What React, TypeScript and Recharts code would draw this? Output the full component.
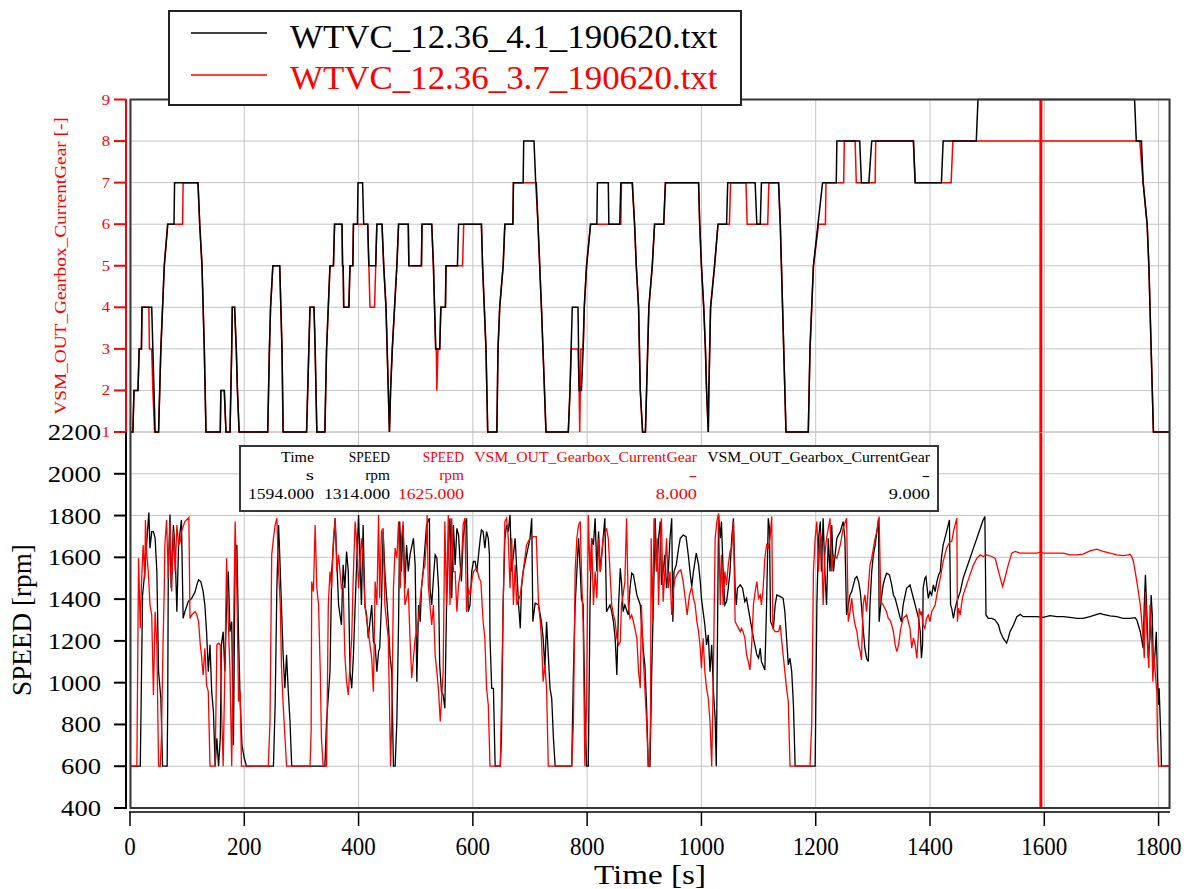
import React from "react";
import { LineChart, Line, XAxis, YAxis, CartesianGrid, ReferenceLine } from "recharts";

const BLACK = "#000000";
const RED = "#ff0000";
const GRID = "#c4c4c4";
const FRAME = "#363636";
const FONT = "'Liberation Serif', serif";

const T_MAX = 1820;
const timeTicks = [0, 200, 400, 600, 800, 1000, 1200, 1400, 1600, 1800];
const gearTicks = [1, 2, 3, 4, 5, 6, 7, 8, 9];
const speedTicks = [400, 600, 800, 1000, 1200, 1400, 1600, 1800, 2000, 2200];
const cursorTime = 1594;

const fileBlack = "WTVC_12.36_4.1_190620.txt";
const fileRed = "WTVC_12.36_3.7_190620.txt";

// cursor readout table
const tableHeads = ["Time", "SPEED", "SPEED", "VSM_OUT_Gearbox_CurrentGear", "VSM_OUT_Gearbox_CurrentGear"];
const tableUnits = ["s", "rpm", "rpm", "-", "-"];
const tableValues = ["1594.000", "1314.000", "1625.000", "8.000", "9.000"];

// gear, black file: [time s, gear]
const gearBlack: [number, number][] = [
  [0, 1], [5, 1], [7, 2], [14, 2], [16, 3], [20, 3], [21, 4], [38, 4], [40, 3], [42, 2], [44, 1], [50, 1],
  [52, 2], [54, 3], [57, 4], [60, 5], [66, 6], [77, 6], [78, 7], [119, 7], [122, 6], [126, 5], [128, 4],
  [130, 3], [133, 1], [158, 1], [159, 2], [165, 2], [168, 1], [175, 1], [178, 3], [179, 4], [183, 4],
  [186, 3], [188, 2], [191, 1], [241, 1], [244, 3], [246, 4], [250, 5], [262, 5], [264, 4], [266, 3],
  [268, 1], [309, 1], [311, 2], [313, 3], [315, 4], [322, 4], [324, 3], [327, 1], [341, 1], [344, 3],
  [347, 4], [350, 5], [356, 5], [358, 6], [371, 6], [372, 5], [373, 5], [374, 4], [383, 4], [385, 5],
  [390, 5], [391, 6], [398, 6], [399, 7], [407, 7], [409, 6], [416, 6], [418, 5], [430, 5], [432, 6],
  [441, 6], [444, 5], [448, 4], [450, 3], [452, 2], [454, 1], [456, 2], [459, 3], [463, 4], [467, 5],
  [470, 6], [487, 6], [488, 5], [510, 5], [511, 6], [528, 6], [531, 5], [533, 4], [535, 3], [542, 3],
  [544, 4], [552, 4], [553, 5], [573, 5], [575, 6], [615, 6], [617, 5], [620, 4], [623, 3], [626, 1],
  [642, 1], [644, 3], [647, 4], [653, 5], [656, 6], [670, 6], [671, 7], [688, 7], [689, 8], [707, 8],
  [710, 7], [711, 7], [714, 6], [717, 5], [720, 4], [728, 1], [767, 1], [770, 2], [772, 3], [774, 4],
  [784, 4], [786, 2], [790, 2], [793, 3], [795, 4], [799, 5], [806, 6], [817, 6], [818, 7], [837, 7],
  [838, 6], [857, 6], [859, 7], [879, 7], [883, 6], [886, 5], [890, 4], [893, 2], [897, 1], [902, 1],
  [904, 2], [908, 4], [914, 5], [918, 6], [934, 6], [937, 7], [995, 7], [997, 6], [1000, 5], [1004, 4],
  [1007, 3], [1009, 2], [1012, 1], [1013, 2], [1016, 4], [1023, 5], [1029, 6], [1044, 6], [1046, 7],
  [1094, 7], [1097, 6], [1103, 6], [1105, 7], [1135, 7], [1138, 6], [1140, 5], [1142, 4], [1144, 3],
  [1146, 2], [1148, 1], [1187, 1], [1190, 3], [1196, 5], [1204, 6], [1212, 7], [1236, 7], [1237, 8],
  [1277, 8], [1280, 7], [1293, 7], [1298, 8], [1371, 8], [1374, 7], [1420, 7], [1423, 8], [1481, 8],
  [1484, 9], [1758, 9], [1761, 8], [1770, 8], [1773, 7], [1780, 6], [1783, 5], [1785, 4], [1787, 3],
  [1789, 2], [1791, 1], [1820, 1],
];

// gear, red file
const gearRed: [number, number][] = [
  [0, 1], [5, 1], [7, 2], [14, 2], [16, 3], [20, 3], [21, 4], [33, 4], [34, 3], [38, 3], [40, 2], [43, 1],
  [50, 1], [52, 2], [54, 3], [57, 4], [60, 5], [66, 6], [92, 6], [93, 7], [119, 7], [122, 6], [126, 5],
  [128, 4], [130, 3], [133, 1], [158, 1], [159, 2], [165, 2], [168, 1], [175, 1], [178, 3], [179, 4],
  [183, 4], [186, 3], [188, 2], [191, 1], [241, 1], [244, 3], [246, 4], [250, 5], [262, 5], [264, 4],
  [266, 3], [268, 1], [309, 1], [311, 2], [313, 3], [315, 4], [322, 4], [324, 3], [327, 1], [341, 1],
  [344, 3], [347, 4], [350, 5], [356, 5], [358, 6], [371, 6], [372, 5], [373, 5], [374, 4], [383, 4],
  [385, 5], [390, 5], [391, 6], [416, 6], [418, 5], [420, 4], [428, 4], [430, 5], [432, 6], [441, 6],
  [444, 5], [448, 4], [450, 3], [452, 2], [454, 1], [456, 2], [459, 3], [463, 4], [467, 5], [470, 6],
  [487, 6], [488, 5], [510, 5], [511, 6], [528, 6], [531, 5], [533, 4], [535, 3], [536, 3], [537, 2],
  [539, 3], [542, 3], [544, 4], [552, 4], [553, 5], [582, 5], [584, 6], [615, 6], [617, 5], [620, 4],
  [623, 3], [626, 1], [642, 1], [644, 3], [647, 4], [653, 5], [656, 6], [670, 6], [671, 7], [710, 7],
  [714, 6], [717, 5], [720, 4], [728, 1], [767, 1], [770, 2], [772, 3], [784, 3], [786, 2], [787, 1],
  [789, 3], [793, 3], [795, 4], [799, 5], [806, 6], [859, 6], [860, 7], [879, 7], [883, 6], [886, 5],
  [890, 4], [893, 2], [897, 1], [902, 1], [904, 2], [908, 4], [914, 5], [918, 6], [934, 6], [937, 7],
  [995, 7], [997, 6], [1000, 5], [1004, 4], [1007, 3], [1009, 2], [1012, 1], [1013, 2], [1016, 4],
  [1023, 5], [1029, 6], [1049, 6], [1051, 7], [1078, 7], [1080, 6], [1116, 6], [1118, 7], [1135, 7],
  [1138, 6], [1140, 5], [1142, 4], [1144, 3], [1146, 2], [1148, 1], [1187, 1], [1190, 3], [1196, 5],
  [1205, 6], [1217, 6], [1218, 7], [1249, 7], [1250, 8], [1269, 8], [1271, 7], [1304, 7], [1305, 8],
  [1371, 8], [1374, 7], [1437, 7], [1440, 8], [1767, 8], [1773, 7], [1780, 6], [1783, 5], [1785, 4],
  [1787, 3], [1789, 2], [1791, 1], [1820, 1],
];

// engine speed, black file: [time s, rpm]
const speedBlack: [number, number][] = [
  [0, 600], [18, 600], [22, 1420], [26, 1532], [29, 1660], [33, 1815], [35, 1644], [38, 1723], [41, 1723],
  [44, 1691], [47, 1532], [50, 1053], [52, 989], [54, 925], [57, 600], [65, 600], [66, 893], [67, 1532],
  [70, 1805], [72, 1452], [76, 1755], [79, 1628], [82, 1340], [85, 1659], [90, 1779], [93, 1308], [96, 1340],
  [102, 1388], [108, 1404], [114, 1436], [117, 1468], [120, 1492], [124, 1484], [128, 1436], [131, 1372],
  [134, 1244], [137, 1053], [140, 1181], [143, 957], [146, 861], [149, 600], [152, 734], [155, 600],
  [158, 734], [160, 1181], [163, 1244], [166, 1053], [169, 1372], [172, 1532], [175, 1244], [178, 1292],
  [181, 700], [184, 1630], [187, 1660], [190, 1213], [193, 893], [196, 700], [200, 638], [204, 600],
  [251, 600], [254, 893], [257, 1452], [260, 1755], [262, 1612], [265, 1372], [268, 1133], [271, 973],
  [274, 1133], [277, 957], [280, 814], [283, 600], [341, 600], [344, 814], [350, 1053], [353, 1532],
  [359, 1787], [365, 1372], [370, 1276], [373, 1564], [376, 1452], [379, 1628], [382, 1532], [385, 1053],
  [388, 973], [391, 1133], [394, 1372], [397, 1596], [400, 1803], [402, 1628], [405, 1372], [408, 1755],
  [411, 1372], [414, 1324], [417, 1213], [423, 1372], [426, 1197], [429, 1181], [432, 1053], [435, 1149],
  [437, 1165], [440, 1372], [443, 1723], [446, 1532], [452, 1292], [455, 1130], [458, 1053], [461, 600],
  [464, 600], [467, 814], [470, 1292], [472, 1771], [475, 1532], [478, 1755], [481, 1452], [484, 1659],
  [487, 1532], [490, 1612], [496, 1691], [499, 1564], [502, 1005], [505, 1372], [508, 1292], [510, 1452],
  [513, 1532], [519, 1755], [524, 1787], [525, 1452], [528, 1372], [531, 1500], [534, 1612], [537, 1596],
  [540, 1452], [542, 1085], [545, 957], [548, 941], [551, 877], [554, 1372], [557, 1644], [560, 1787],
  [563, 1404], [566, 1755], [569, 1564], [572, 1739], [575, 1707], [578, 1564], [580, 1484], [583, 1691],
  [586, 1755], [589, 1787], [592, 1340], [595, 1372], [598, 1532], [601, 1580], [604, 1580], [607, 1532],
  [610, 1612], [613, 1691], [615, 1731], [618, 1723], [621, 1644], [624, 1723], [627, 1691], [629, 1612],
  [630, 1213], [633, 973], [636, 973], [639, 600], [648, 600], [650, 734], [653, 1372], [656, 1691],
  [659, 1755], [662, 1723], [665, 1803], [668, 1532], [671, 1612], [674, 1691], [677, 1532], [680, 1372],
  [683, 1260], [685, 1452], [688, 1532], [694, 1612], [700, 1691], [703, 1787], [705, 1292], [709, 1380],
  [715, 1372], [720, 1292], [723, 1213], [726, 1069], [729, 1292], [732, 1133], [735, 973], [738, 925],
  [741, 734], [744, 600], [773, 600], [776, 1053], [779, 1372], [782, 1532], [785, 1691], [788, 1532],
  [790, 1404], [793, 1372], [796, 893], [799, 600], [802, 600], [805, 1372], [808, 1691], [811, 1659],
  [814, 1787], [817, 1532], [820, 1723], [823, 1532], [828, 1691], [831, 1787], [834, 1340], [837, 1356],
  [840, 1372], [843, 1340], [846, 1292], [849, 1213], [852, 1037], [855, 1372], [858, 1548], [860, 1484],
  [863, 1340], [866, 1372], [872, 1324], [875, 1452], [878, 1524], [881, 1516], [884, 1468], [887, 1420],
  [893, 1372], [895, 1292], [898, 1165], [901, 1085], [904, 893], [907, 600], [910, 600], [913, 1053],
  [916, 1388], [919, 1787], [922, 1532], [925, 1691], [928, 1771], [930, 1468], [933, 1532], [936, 1612],
  [939, 1452], [942, 1532], [945, 1691], [948, 1787], [950, 1292], [952, 1532], [956, 1564], [960, 1644],
  [963, 1691], [968, 1707], [973, 1699], [977, 1612], [980, 1532], [983, 1460], [986, 1532], [991, 1620],
  [995, 1564], [998, 1484], [1000, 1404], [1003, 1340], [1006, 1276], [1009, 1181], [1012, 1229],
  [1015, 1053], [1018, 1181], [1021, 957], [1024, 830], [1026, 600], [1027, 893], [1030, 1803], [1033, 1691],
  [1035, 1771], [1038, 1532], [1041, 1372], [1044, 1388], [1047, 1452], [1050, 1532], [1053, 1691],
  [1056, 1787], [1059, 1452], [1061, 1372], [1063, 1452], [1068, 1468], [1072, 1452], [1076, 1388],
  [1079, 1404], [1085, 1308], [1091, 1213], [1097, 1133], [1100, 1117], [1103, 1165], [1105, 1101],
  [1111, 1061], [1114, 1372], [1117, 1787], [1119, 1739], [1121, 1292], [1126, 1260], [1129, 1372],
  [1132, 1420], [1138, 1412], [1143, 1404], [1146, 1340], [1149, 1213], [1152, 1085], [1155, 1117],
  [1158, 1053], [1161, 893], [1164, 600], [1199, 600], [1202, 1372], [1205, 1691], [1208, 1771],
  [1210, 1532], [1213, 1787], [1216, 1532], [1219, 1372], [1222, 1691], [1225, 1532], [1228, 1755],
  [1231, 1532], [1234, 1612], [1237, 1691], [1243, 1723], [1248, 1771], [1251, 1691], [1254, 1324],
  [1257, 1372], [1260, 1420], [1263, 1436], [1266, 1468], [1269, 1500], [1272, 1508], [1275, 1484],
  [1278, 1436], [1280, 1372], [1283, 1260], [1286, 1165], [1289, 1117], [1292, 1101], [1295, 1372],
  [1298, 1532], [1301, 1612], [1304, 1659], [1307, 1723], [1310, 1787], [1311, 1292], [1315, 1404],
  [1318, 1468], [1321, 1500], [1324, 1524], [1329, 1516], [1333, 1468], [1336, 1420], [1339, 1404],
  [1342, 1372], [1348, 1308], [1350, 1292], [1353, 1372], [1359, 1452], [1365, 1468], [1371, 1404],
  [1374, 1372], [1377, 1340], [1380, 1308], [1383, 1244], [1385, 1117], [1387, 1181], [1388, 1452],
  [1391, 1500], [1393, 1508], [1395, 1452], [1397, 1404], [1400, 1436], [1403, 1420], [1406, 1468],
  [1409, 1436], [1412, 1484], [1415, 1516], [1418, 1532], [1420, 1596], [1423, 1659], [1429, 1723],
  [1434, 1779], [1436, 1372], [1438, 1356], [1441, 1308], [1444, 1356], [1447, 1388], [1453, 1436],
  [1458, 1500], [1464, 1548], [1470, 1596], [1476, 1644], [1482, 1691], [1488, 1739], [1493, 1779],
  [1496, 1795], [1498, 1324], [1502, 1308], [1508, 1308], [1514, 1300], [1520, 1276], [1523, 1244],
  [1528, 1213], [1534, 1189], [1537, 1213], [1540, 1244], [1546, 1276], [1552, 1316], [1558, 1327],
  [1563, 1316], [1575, 1316], [1587, 1316], [1594, 1314], [1598, 1313], [1610, 1321], [1622, 1316],
  [1633, 1316], [1645, 1313], [1657, 1308], [1668, 1308], [1680, 1316], [1692, 1327], [1698, 1332],
  [1703, 1327], [1715, 1320], [1727, 1316], [1738, 1308], [1750, 1308], [1759, 1311], [1762, 1300],
  [1768, 1244], [1773, 1165], [1775, 1372], [1777, 1516], [1779, 1372], [1782, 1117], [1785, 1213],
  [1787, 1420], [1789, 1324], [1791, 1053], [1794, 1149], [1796, 1244], [1798, 1021], [1800, 893],
  [1801, 973], [1804, 734], [1805, 600], [1818, 600],
];

// engine speed, red file
const speedRed: [number, number][] = [
  [0, 600], [12, 600], [15, 1596], [18, 1260], [20, 1468], [23, 1659], [26, 1500], [27, 1779], [29, 1628],
  [32, 1532], [35, 1372], [38, 1324], [41, 941], [44, 1340], [47, 1181], [50, 600], [53, 600], [55, 734],
  [58, 1213], [60, 1452], [61, 1659], [64, 1779], [67, 1500], [70, 1771], [73, 1436], [76, 1723], [79, 1532],
  [82, 1755], [85, 1659], [88, 1675], [90, 1723], [96, 1771], [103, 1790], [105, 1308], [108, 1324],
  [114, 1340], [117, 1324], [120, 1292], [123, 1181], [125, 1133], [128, 1037], [131, 1165], [134, 989],
  [137, 957], [140, 600], [149, 600], [152, 1181], [155, 1189], [158, 1181], [160, 893], [163, 600],
  [166, 1053], [169, 1596], [172, 1292], [175, 1053], [178, 600], [181, 1213], [184, 1771], [187, 1452],
  [190, 909], [193, 957], [195, 600], [242, 600], [245, 814], [248, 1612], [251, 1691], [254, 1755],
  [257, 1787], [260, 1532], [263, 1372], [265, 1085], [268, 893], [274, 600], [315, 600], [317, 766],
  [318, 1484], [321, 1436], [324, 1755], [327, 1452], [330, 1372], [333, 1053], [335, 734], [338, 600],
  [344, 600], [347, 1372], [350, 1532], [353, 1452], [356, 1691], [359, 1787], [362, 1532], [365, 1612],
  [370, 1452], [373, 1468], [376, 1133], [379, 1005], [382, 941], [385, 1085], [388, 1213], [391, 1532],
  [394, 1771], [397, 1659], [400, 1452], [405, 1691], [408, 1596], [411, 1372], [417, 1244], [423, 1117],
  [426, 957], [429, 1484], [432, 1372], [435, 1803], [437, 1404], [440, 1723], [443, 1739], [446, 1372],
  [452, 1213], [456, 600], [458, 814], [461, 1452], [464, 1644], [467, 1596], [470, 1771], [473, 1452],
  [475, 1691], [478, 1771], [481, 1372], [484, 1404], [487, 1452], [490, 1213], [493, 1021], [496, 1117],
  [499, 1213], [502, 1244], [505, 1308], [508, 1404], [510, 1452], [513, 1532], [516, 1564], [519, 1691],
  [520, 1803], [522, 1468], [525, 1372], [528, 1276], [531, 1372], [534, 1133], [537, 1053], [540, 957],
  [543, 814], [545, 909], [548, 1053], [551, 1771], [554, 1372], [557, 1803], [560, 1372], [563, 1787],
  [566, 1532], [569, 1532], [572, 1340], [575, 1468], [580, 1564], [583, 1755], [586, 1787], [589, 1340],
  [592, 1452], [595, 1420], [598, 1484], [601, 1532], [606, 1548], [608, 1532], [611, 1500], [614, 1484],
  [618, 1292], [621, 1213], [624, 973], [627, 893], [630, 600], [648, 600], [650, 893], [653, 1372],
  [656, 1771], [659, 1787], [662, 1691], [665, 1452], [668, 1691], [671, 1372], [674, 1564], [677, 1372],
  [683, 1420], [688, 1532], [694, 1659], [700, 1691], [706, 1699], [711, 1699], [715, 1372], [718, 1292],
  [720, 1213], [723, 1005], [726, 1085], [729, 973], [732, 600], [773, 600], [776, 814], [779, 1532],
  [782, 1691], [785, 1755], [788, 1771], [790, 1532], [793, 1292], [796, 600], [799, 893], [802, 1803],
  [805, 1532], [808, 1691], [811, 1372], [814, 1532], [817, 1404], [820, 1691], [823, 1532], [828, 1691],
  [834, 1739], [837, 1691], [840, 1532], [843, 1372], [846, 1324], [849, 1292], [852, 1213], [855, 1181],
  [858, 1197], [860, 1372], [863, 1420], [866, 1484], [869, 1787], [872, 1372], [875, 1308], [878, 1324],
  [881, 1292], [887, 1213], [890, 1053], [893, 973], [895, 1372], [898, 1133], [904, 814], [907, 600],
  [909, 600], [911, 830], [912, 1691], [915, 1292], [917, 1787], [921, 1532], [923, 1691], [925, 1372],
  [928, 1691], [930, 1787], [933, 1388], [936, 1532], [939, 1691], [942, 1452], [945, 1532], [948, 1324],
  [951, 1452], [954, 1500], [960, 1532], [964, 1540], [968, 1484], [973, 1372], [975, 1324], [979, 1420],
  [983, 1460], [986, 1404], [989, 1372], [992, 1292], [995, 1244], [998, 1165], [1000, 1069], [1003, 1213],
  [1006, 1053], [1009, 973], [1012, 925], [1015, 814], [1018, 600], [1021, 1053], [1024, 1691], [1027, 1771],
  [1030, 1811], [1033, 1372], [1035, 1612], [1038, 1372], [1041, 1532], [1044, 1468], [1047, 1564],
  [1050, 1628], [1053, 1644], [1056, 1771], [1059, 1292], [1062, 1276], [1065, 1260], [1068, 1244],
  [1070, 1260], [1073, 1244], [1076, 1213], [1079, 1133], [1082, 1101], [1085, 1061], [1088, 1181],
  [1091, 1372], [1094, 1436], [1097, 1484], [1100, 1404], [1103, 1420], [1105, 1372], [1108, 1452],
  [1111, 1596], [1114, 1659], [1117, 1644], [1120, 1691], [1123, 1795], [1125, 1260], [1129, 1244],
  [1135, 1244], [1138, 1276], [1140, 1213], [1143, 1133], [1146, 1053], [1149, 973], [1152, 909],
  [1155, 600], [1190, 600], [1193, 798], [1196, 1532], [1199, 1691], [1202, 1771], [1205, 1532],
  [1208, 1723], [1210, 1691], [1213, 1372], [1216, 1612], [1219, 1691], [1225, 1787], [1228, 1532],
  [1231, 1612], [1237, 1596], [1243, 1659], [1248, 1739], [1254, 1787], [1257, 1292], [1260, 1340],
  [1263, 1404], [1266, 1324], [1269, 1276], [1272, 1244], [1275, 1181], [1278, 1149], [1280, 1109],
  [1283, 1372], [1286, 1420], [1289, 1340], [1292, 1452], [1295, 1564], [1298, 1596], [1301, 1644],
  [1304, 1691], [1307, 1723], [1311, 1795], [1314, 1388], [1318, 1372], [1321, 1356], [1324, 1340],
  [1327, 1308], [1330, 1300], [1333, 1276], [1336, 1244], [1339, 1181], [1342, 1149], [1345, 1181],
  [1348, 1244], [1350, 1276], [1353, 1308], [1359, 1324], [1362, 1292], [1365, 1260], [1368, 1165],
  [1371, 1213], [1374, 1181], [1377, 1117], [1380, 1244], [1381, 1356], [1384, 1324], [1385, 1340],
  [1388, 1276], [1391, 1260], [1394, 1308], [1397, 1324], [1400, 1292], [1403, 1340], [1406, 1356],
  [1409, 1372], [1412, 1420], [1418, 1500], [1423, 1580], [1429, 1644], [1435, 1675], [1438, 1675],
  [1441, 1723], [1444, 1755], [1447, 1787], [1448, 1292], [1450, 1356], [1453, 1324], [1455, 1372],
  [1458, 1420], [1464, 1468], [1470, 1516], [1476, 1564], [1482, 1596], [1488, 1612], [1493, 1604],
  [1499, 1612], [1508, 1604], [1514, 1596], [1520, 1532], [1527, 1460], [1531, 1500], [1537, 1564],
  [1543, 1620], [1549, 1628], [1558, 1620], [1569, 1620], [1587, 1620], [1594, 1625], [1598, 1620],
  [1610, 1620], [1622, 1620], [1633, 1620], [1645, 1612], [1657, 1612], [1668, 1615], [1680, 1631],
  [1692, 1639], [1703, 1628], [1715, 1620], [1727, 1612], [1738, 1608], [1747, 1612], [1750, 1615],
  [1753, 1604], [1756, 1580], [1762, 1484], [1768, 1372], [1773, 1213], [1775, 1117], [1777, 1436],
  [1780, 1213], [1783, 1069], [1785, 1372], [1788, 1213], [1790, 1005], [1792, 1133], [1794, 1053],
  [1797, 957], [1798, 734], [1800, 600], [1818, 600],
];

const rows = (pts: [number, number][]) => pts.map(([t, v]) => ({ t, v }));

// condensed serif text, stretched to a fixed advance per character
function Txt({ x, y, s, size, adv, anchor = "start", fill = BLACK, rotate = false }: any) {
  return (
    <text
      x={x}
      y={y}
      fontSize={size}
      fill={fill}
      textAnchor={anchor}
      fontFamily={FONT}
      textLength={s.length * adv}
      lengthAdjust="spacingAndGlyphs"
      transform={rotate ? `rotate(-90 ${x} ${y})` : undefined}
    >
      {s}
    </text>
  );
}

const GearTick = ({ x, y, payload }: any) => (
  <g>
    <line x1={x - 16} x2={x - 4} y1={y} y2={y} stroke={RED} strokeWidth={2} />
    <Txt x={x - 20} y={y + 5} s={String(payload.value)} size={15} adv={8.3} anchor="end" fill={RED} />
  </g>
);

const SpeedTick = ({ x, y, payload }: any) => (
  <g>
    <line x1={x - 16} x2={x - 4} y1={y} y2={y} stroke={BLACK} strokeWidth={2} />
    <Txt x={x - 29} y={y + 8} s={String(payload.value)} size={24} adv={13.3} anchor="end" />
  </g>
);

const TimeTick = ({ x, y, payload }: any) => (
  <g>
    <line x1={x} x2={x} y1={y + 4} y2={y + 18} stroke={BLACK} strokeWidth={1.5} />
    <Txt x={x} y={y + 47} s={String(payload.value)} size={26} adv={11.5} anchor="middle" />
  </g>
);

const tableRight = [314, 390, 464, 697, 930];
const tableColor = [BLACK, BLACK, RED, RED, BLACK];

export default function App() {
  const W = 1189;
  const H = 889;
  return (
    <div style={{ position: "absolute", left: 0, top: 0, width: W, height: H, background: "#fff", fontFamily: FONT }}>
      {/* speed panel */}
      <div style={{ position: "absolute", left: 0, top: 0 }}>
        <LineChart width={W} height={H} margin={{ top: 432, right: 19, bottom: 21, left: 0 }}>
          <CartesianGrid stroke={GRID} strokeWidth={1} />
          <XAxis
            dataKey="t"
            type="number"
            domain={[0, T_MAX]}
            ticks={timeTicks}
            interval={0}
            allowDataOverflow
            height={60}
            axisLine={false}
            tickLine={false}
            tickSize={0}
            tickMargin={0}
            tick={<TimeTick />}
          />
          <YAxis
            type="number"
            domain={[400, 2200]}
            ticks={speedTicks}
            interval={0}
            width={130}
            axisLine={false}
            tickLine={false}
            tickSize={0}
            tickMargin={0}
            tick={<SpeedTick />}
          />
          <Line data={rows(speedBlack)} dataKey="v" type="linear" stroke={BLACK} strokeWidth={1.3} dot={false} isAnimationActive={false} />
          <Line data={rows(speedRed)} dataKey="v" type="linear" stroke={RED} strokeWidth={1.3} dot={false} isAnimationActive={false} />
          <ReferenceLine x={cursorTime} stroke={RED} strokeWidth={3} />
        </LineChart>
      </div>

      {/* gear panel (taller svg so the lowest tick label is not clipped) */}
      <div style={{ position: "absolute", left: 0, top: 0 }}>
        <LineChart width={W} height={452} margin={{ top: 99.5, right: 19, bottom: 20, left: 0 }}>
          <CartesianGrid stroke={GRID} strokeWidth={1} />
          <XAxis dataKey="t" type="number" domain={[0, T_MAX]} ticks={timeTicks} allowDataOverflow hide />
          <YAxis
            type="number"
            domain={[1, 9]}
            ticks={gearTicks}
            interval={0}
            width={130}
            axisLine={false}
            tickLine={false}
            tickSize={0}
            tickMargin={0}
            tick={<GearTick />}
          />
          <Line data={rows(gearRed)} dataKey="v" type="linear" stroke={RED} strokeWidth={1.5} dot={false} isAnimationActive={false} />
          <Line data={rows(gearBlack)} dataKey="v" type="linear" stroke={BLACK} strokeWidth={1.5} dot={false} isAnimationActive={false} />
          <ReferenceLine x={cursorTime} stroke={RED} strokeWidth={3} />
        </LineChart>
      </div>

      {/* frame, axis lines, titles, legend and readout */}
      <svg width={W} height={H} style={{ position: "absolute", left: 0, top: 0, pointerEvents: "none" }}>
        <rect x={130.5} y={99.5} width={1039} height={708.5} fill="none" stroke={FRAME} strokeWidth={2} />
        <line x1={126} x2={126} y1={99} y2={432} stroke={RED} strokeWidth={2} />
        <line x1={126} x2={126} y1={432} y2={809} stroke={BLACK} strokeWidth={2} />
        <line x1={129} x2={1170} y1={812} y2={812} stroke={BLACK} strokeWidth={1.5} />

        <Txt x={66} y={266} s="VSM_OUT_Gearbox_CurrentGear [-]" size={16} adv={9.6} anchor="middle" fill={RED} rotate />
        <Txt x={31} y={620} s="SPEED [rpm]" size={27} adv={13.8} anchor="middle" rotate />
        <Txt x={650} y={884} s="Time [s]" size={28} adv={14} anchor="middle" />

        <rect x={169} y={11} width={572} height={94} fill="#fff" stroke="#222" strokeWidth={2} />
        <line x1={191} x2={267} y1={33} y2={33} stroke={BLACK} strokeWidth={1.5} />
        <line x1={191} x2={267} y1={75} y2={75} stroke={RED} strokeWidth={1.5} />
        <Txt x={290} y={48} s={fileBlack} size={33} adv={17.1} />
        <Txt x={290} y={89} s={fileRed} size={33} adv={17.1} fill={RED} />

        <rect x={240} y={446} width={698} height={65} fill="#fff" stroke={FRAME} strokeWidth={2} />
        {tableHeads.map((s, i) => (
          <Txt key={"h" + i} x={tableRight[i]} y={462} s={s} size={14} adv={8.25} anchor="end" fill={tableColor[i]} />
        ))}
        {tableUnits.map((s, i) => (
          <Txt key={"u" + i} x={tableRight[i]} y={480} s={s} size={14} adv={8.25} anchor="end" fill={tableColor[i]} />
        ))}
        {tableValues.map((s, i) => (
          <Txt key={"v" + i} x={tableRight[i]} y={499} s={s} size={14} adv={8.25} anchor="end" fill={tableColor[i]} />
        ))}
      </svg>
    </div>
  );
}
